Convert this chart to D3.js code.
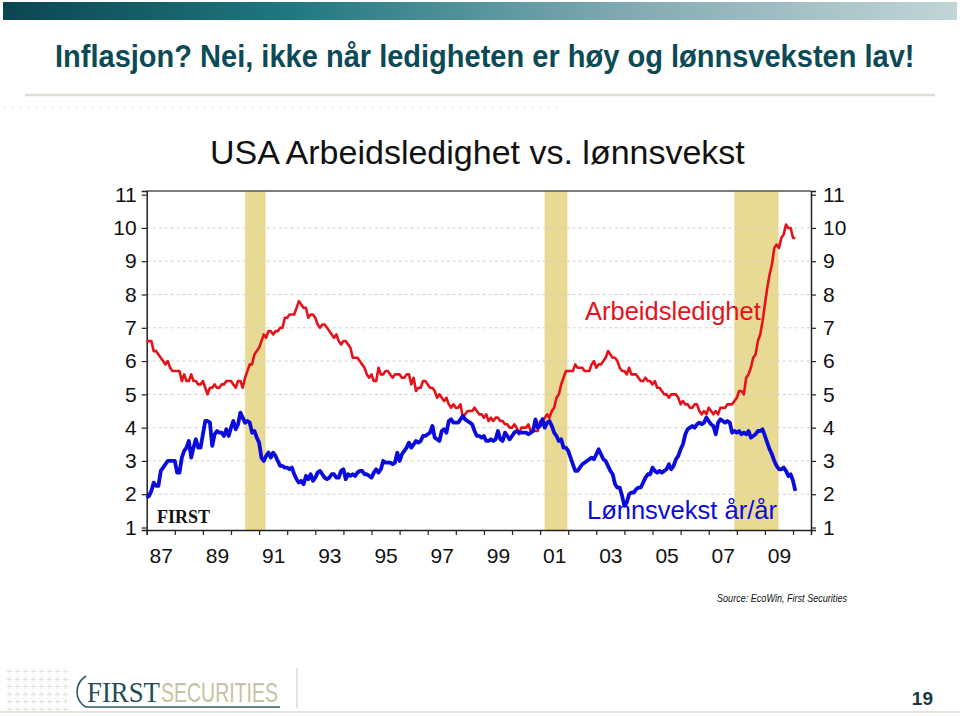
<!DOCTYPE html>
<html><head><meta charset="utf-8">
<script src="https://cdn.jsdelivr.net/npm/d3@7/dist/d3.min.js"></script>
<style>body{margin:0;background:#fff} svg{display:block}</style>
</head><body><svg id="c" width="960" height="716"></svg>
<script>
// ---------- DATA (monthly, Jan 1987 - Feb 2010) ----------
const startYear = 1987;
const unemployment = [
  6.6,6.6,6.6,6.3,6.3,6.2,6.1,6.0,5.9,6.0,5.8,5.7,
  5.7,5.7,5.7,5.4,5.6,5.4,5.4,5.6,5.4,5.4,5.3,5.3,
  5.4,5.2,5.0,5.2,5.2,5.3,5.2,5.2,5.3,5.3,5.4,5.4,
  5.4,5.3,5.2,5.4,5.4,5.2,5.5,5.7,5.9,5.9,6.2,6.3,
  6.4,6.6,6.8,6.7,6.9,6.9,6.8,6.9,6.9,7.0,7.0,7.3,
  7.3,7.4,7.4,7.4,7.6,7.8,7.7,7.6,7.6,7.3,7.4,7.4,
  7.3,7.1,7.0,7.1,7.1,7.0,6.9,6.8,6.7,6.8,6.6,6.5,
  6.6,6.6,6.5,6.4,6.1,6.1,6.1,6.0,5.9,5.8,5.6,5.5,
  5.6,5.4,5.4,5.8,5.6,5.6,5.7,5.7,5.6,5.5,5.6,5.6,
  5.6,5.5,5.5,5.6,5.6,5.3,5.5,5.1,5.2,5.2,5.4,5.4,
  5.3,5.2,5.2,5.1,4.9,5.0,4.9,4.8,4.9,4.7,4.6,4.7,
  4.6,4.6,4.7,4.3,4.4,4.5,4.5,4.5,4.6,4.5,4.4,4.4,
  4.3,4.4,4.2,4.3,4.2,4.3,4.3,4.2,4.2,4.1,4.1,4.0,
  4.0,4.1,4.0,3.8,4.0,4.0,4.0,4.1,3.9,3.9,3.9,3.9,
  4.2,4.2,4.3,4.4,4.3,4.5,4.6,4.9,5.0,5.3,5.5,5.7,
  5.7,5.7,5.7,5.9,5.8,5.8,5.8,5.7,5.7,5.7,5.9,6.0,
  5.8,5.9,5.9,6.0,6.1,6.3,6.2,6.1,6.1,6.0,5.8,5.7,
  5.7,5.6,5.8,5.6,5.6,5.6,5.5,5.4,5.4,5.5,5.4,5.4,
  5.3,5.4,5.2,5.2,5.1,5.0,5.0,4.9,5.0,5.0,5.0,4.9,
  4.7,4.8,4.7,4.7,4.6,4.6,4.7,4.7,4.5,4.4,4.5,4.4,
  4.6,4.5,4.4,4.5,4.4,4.6,4.6,4.6,4.7,4.7,4.7,4.8,
  4.9,5.1,5.1,5.0,5.5,5.6,5.8,6.1,6.2,6.6,6.8,7.2,
  7.7,8.2,8.6,8.9,9.4,9.5,9.4,9.7,9.8,10.1,10.0,10.0,
  9.7,9.7
];
const wageGrowth = [
  1.9,1.95,2.1,2.35,2.25,2.25,2.7,2.8,2.9,3.0,3.0,3.0,
  3.0,2.65,2.65,3.1,3.3,3.4,3.6,3.1,3.4,3.65,3.4,3.4,
  3.8,4.2,4.2,4.15,3.45,3.8,3.9,3.85,3.85,3.75,3.95,3.75,
  4.0,4.2,3.95,4.1,4.45,4.3,4.15,4.2,4.15,3.85,3.9,3.7,
  3.55,3.1,3.0,3.15,3.25,3.1,3.25,3.15,3.0,2.85,2.85,2.8,
  2.8,2.75,2.8,2.6,2.45,2.35,2.4,2.3,2.55,2.45,2.6,2.4,
  2.5,2.65,2.7,2.6,2.5,2.45,2.5,2.6,2.6,2.5,2.5,2.7,
  2.75,2.45,2.6,2.55,2.6,2.55,2.65,2.7,2.7,2.6,2.6,2.55,
  2.5,2.65,2.75,2.65,2.75,3.0,2.95,2.95,2.95,2.9,2.95,3.25,
  3.0,3.2,3.3,3.4,3.55,3.4,3.5,3.6,3.55,3.6,3.75,3.75,
  3.8,3.85,4.05,3.7,3.65,3.6,3.9,3.95,3.85,4.2,4.25,4.15,
  4.15,4.15,4.25,4.35,4.25,4.2,4.15,4.1,3.9,3.75,3.75,3.7,
  3.75,3.6,3.6,3.65,3.6,3.65,3.9,3.65,3.6,3.85,3.75,3.65,
  3.75,3.85,3.9,3.85,3.85,3.85,3.85,3.8,3.85,3.9,4.25,4.0,
  4.05,4.25,4.0,4.15,4.2,4.05,3.85,3.75,3.6,3.65,3.4,3.4,
  3.3,3.1,2.9,2.7,2.7,2.8,2.9,2.95,3.0,3.05,3.1,3.05,
  3.2,3.35,3.2,3.05,3.0,2.85,2.7,2.6,2.3,2.2,2.2,1.95,
  1.65,1.75,2.0,2.05,2.05,2.15,2.2,2.2,2.35,2.5,2.6,2.6,
  2.8,2.7,2.65,2.7,2.65,2.7,2.75,2.9,2.75,2.85,3.05,3.15,
  3.35,3.5,3.8,3.95,4.0,4.05,4.0,4.1,4.15,4.1,4.15,4.3,
  4.2,4.1,4.05,3.8,4.15,4.25,4.2,4.15,4.2,4.15,3.85,3.9,
  3.85,3.9,3.8,3.85,3.8,3.9,3.7,3.75,3.8,3.9,3.9,3.95,
  3.75,3.55,3.35,3.2,3.0,2.85,2.75,2.75,2.8,2.7,2.55,2.6,
  2.4,2.1
];
const recessionStart = [1990.5, 2001.16, 2007.91];
const recessionEnd   = [1991.23, 2001.97, 2009.48];
const yTicks = [1,2,3,4,5,6,7,8,9,10,11];
const gridValues = [2,3,4,5,6,7,8,9,10];
const yearTicks = d3.range(1987, 2011);
const labelYears = [1987,1989,1991,1993,1995,1997,1999,2001,2003,2005,2007,2009];

// ---------- SCALES ----------
const L = 146.7, R = 811, T = 191, B = 530;
const x = d3.scaleLinear().domain([1987, 2010.64]).range([L, R]);
const y = d3.scaleLinear().domain([0.925, 11.11]).range([B, T]);
const svg = d3.select('#c');

// ---------- PAGE DECORATION ----------
const defs = svg.append('defs');
const g1 = defs.append('linearGradient').attr('id','topbar');
g1.append('stop').attr('offset','0%').attr('stop-color','#0b4651');
g1.append('stop').attr('offset','30%').attr('stop-color','#1f7880');
g1.append('stop').attr('offset','65%').attr('stop-color','#80aab0');
g1.append('stop').attr('offset','100%').attr('stop-color','#c3d5d8');
svg.append('rect').attr('x',3).attr('y',2).attr('width',954).attr('height',18).attr('fill','url(#topbar)');

const pageTitle = svg.append('text')
  .style('font-family','"Liberation Sans", Arial, sans-serif').style('font-weight','bold')
  .style('font-size','31px').attr('fill','#0c4a55')
  .text('Inflasjon? Nei, ikke når ledigheten er høy og lønnsveksten lav!');
const natW = pageTitle.node().getComputedTextLength() || 1000;
pageTitle.attr('transform', `translate(55,67) scale(${860 / natW},1)`);

svg.append('line').attr('x1',25).attr('x2',935).attr('y1',95).attr('y2',95)
  .attr('stroke','#deddd2').attr('stroke-width',2.5);
svg.append('line').attr('x1',4).attr('x2',560).attr('y1',107).attr('y2',107)
  .attr('stroke','#ececec').attr('stroke-width',2).attr('stroke-dasharray','2,6');

const dotsG = svg.append('g');
for (let r = 0; r < 6; r++) for (let c = 0; c < 8; c++) {
  dotsG.append('text').attr('x', 6 + c*8).attr('y', 674 + r*7.5)
    .style('font-family','"DejaVu Sans", sans-serif').style('font-size','8px')
    .attr('fill','#dcdcd0').text('+');
}

// ---------- CHART ----------
svg.append('g').selectAll('rect').data(recessionStart).join('rect')
  .attr('x', d => x(d)).attr('y', T)
  .attr('width', (d,i) => x(recessionEnd[i]) - x(d)).attr('height', B - T)
  .attr('fill', '#e9da93');

svg.append('g').selectAll('line').data(gridValues).join('line')
  .attr('x1', L).attr('x2', R).attr('y1', d => y(d)).attr('y2', d => y(d))
  .attr('stroke', '#cfcfcf').attr('stroke-width', 1).attr('stroke-dasharray', '3,3');

svg.append('line').attr('x1', L).attr('x2', R).attr('y1', T).attr('y2', T)
  .attr('stroke', '#555').attr('stroke-width', 1.5);

const fontAxis = '"Liberation Sans", Arial, Helvetica, sans-serif';

const axL = svg.append('g').attr('transform', `translate(${L},0)`)
  .call(d3.axisLeft(y).tickValues(yTicks).tickSize(5).tickPadding(5).tickFormat(d3.format('d')));
const axR = svg.append('g').attr('transform', `translate(${R},0)`)
  .call(d3.axisRight(y).tickValues(yTicks).tickSize(5).tickPadding(7).tickFormat(d3.format('d')));
const axB = svg.append('g').attr('transform', `translate(0,${B})`)
  .call(d3.axisBottom(x).tickValues(yearTicks).tickSize(5).tickFormat(''));
const axBL = svg.append('g').attr('transform', `translate(0,${B})`)
  .call(d3.axisBottom(x).tickValues(labelYears.map(v => v + 0.5)).tickSize(0).tickPadding(18)
    .tickFormat(d => String(Math.floor(d) % 100).padStart(2, '0')));
axBL.select('.domain').remove();
[axL, axR, axB, axBL].forEach(a => {
  a.selectAll('text').style('font-family', fontAxis).style('font-size', '21px').attr('fill', '#111');
  a.selectAll('line').attr('stroke', '#222').attr('stroke-width', 1.2);
  a.select('.domain').attr('stroke', '#222').attr('stroke-width', 1.5);
});

const pts = arr => arr.map((v, i) => [startYear + i / 12, v]);
const line = d3.line().x(d => x(d[0])).y(d => y(d[1]));
svg.append('path').datum(pts(unemployment)).attr('d', line)
  .attr('fill', 'none').attr('stroke', '#e5121b').attr('stroke-width', 2.6).attr('stroke-linejoin', 'round');
svg.append('path').datum(pts(wageGrowth)).attr('d', line)
  .attr('fill', 'none').attr('stroke', '#0b0bdc').attr('stroke-width', 3.8).attr('stroke-linejoin', 'round');

svg.append('text').attr('x', 585).attr('y', 320).style('font-family', fontAxis).style('font-size', '25.5px')
  .attr('fill', '#e5121b').text('Arbeidsledighet');
svg.append('text').attr('x', 587).attr('y', 519).style('font-family', fontAxis).style('font-size', '25.5px')
  .attr('fill', '#0b0bdc').text('Lønnsvekst år/år');

svg.append('text').attr('x', 157).attr('y', 523).style('font-family', '"Liberation Serif", "Times New Roman", serif')
  .style('font-weight', 'bold').style('font-size', '18px').attr('fill', '#111').text('FIRST');

svg.append('text').attr('x', 210).attr('y', 164).style('font-family', fontAxis).style('font-size', '34px')
  .attr('fill', '#111').text('USA Arbeidsledighet vs. lønnsvekst');

svg.append('text').attr('x', 717).attr('y', 602).attr('textLength', 130).attr('lengthAdjust', 'spacingAndGlyphs')
  .style('font-family', fontAxis).style('font-style', 'italic').style('font-size', '10px').attr('fill', '#111')
  .text('Source: EcoWin, First Securities');

// ---------- FOOTER ----------
svg.append('path').attr('d', 'M86,676 C74,684 74,700 86,707 L280,707')
  .attr('fill', 'none').attr('stroke', '#2f5f66').attr('stroke-width', 1.6);
svg.append('text').attr('x', 87).attr('y', 702).attr('textLength', 73).attr('lengthAdjust', 'spacingAndGlyphs')
  .style('font-family', '"Liberation Serif", "Times New Roman", serif').style('font-size', '29px')
  .attr('fill', '#1f4e56').text('FIRST');
svg.append('text').attr('x', 161).attr('y', 702).attr('textLength', 117).attr('lengthAdjust', 'spacingAndGlyphs')
  .style('font-family', fontAxis).style('font-size', '28px').style('font-weight', '300')
  .attr('fill', '#c6c3a0').text('SECURITIES');
svg.append('line').attr('x1', 297).attr('x2', 297).attr('y1', 668).attr('y2', 708)
  .attr('stroke', '#dcdcd6').attr('stroke-width', 1.5);
svg.append('text').attr('x', 933).attr('y', 705).attr('text-anchor', 'end')
  .style('font-family', fontAxis).style('font-weight', 'bold').style('font-size', '19px')
  .attr('fill', '#163a40').text('19');
svg.append('line').attr('x1', 0).attr('x2', 960).attr('y1', 712).attr('y2', 712)
  .attr('stroke', '#e6e4d8').attr('stroke-width', 2);
</script></body></html>
